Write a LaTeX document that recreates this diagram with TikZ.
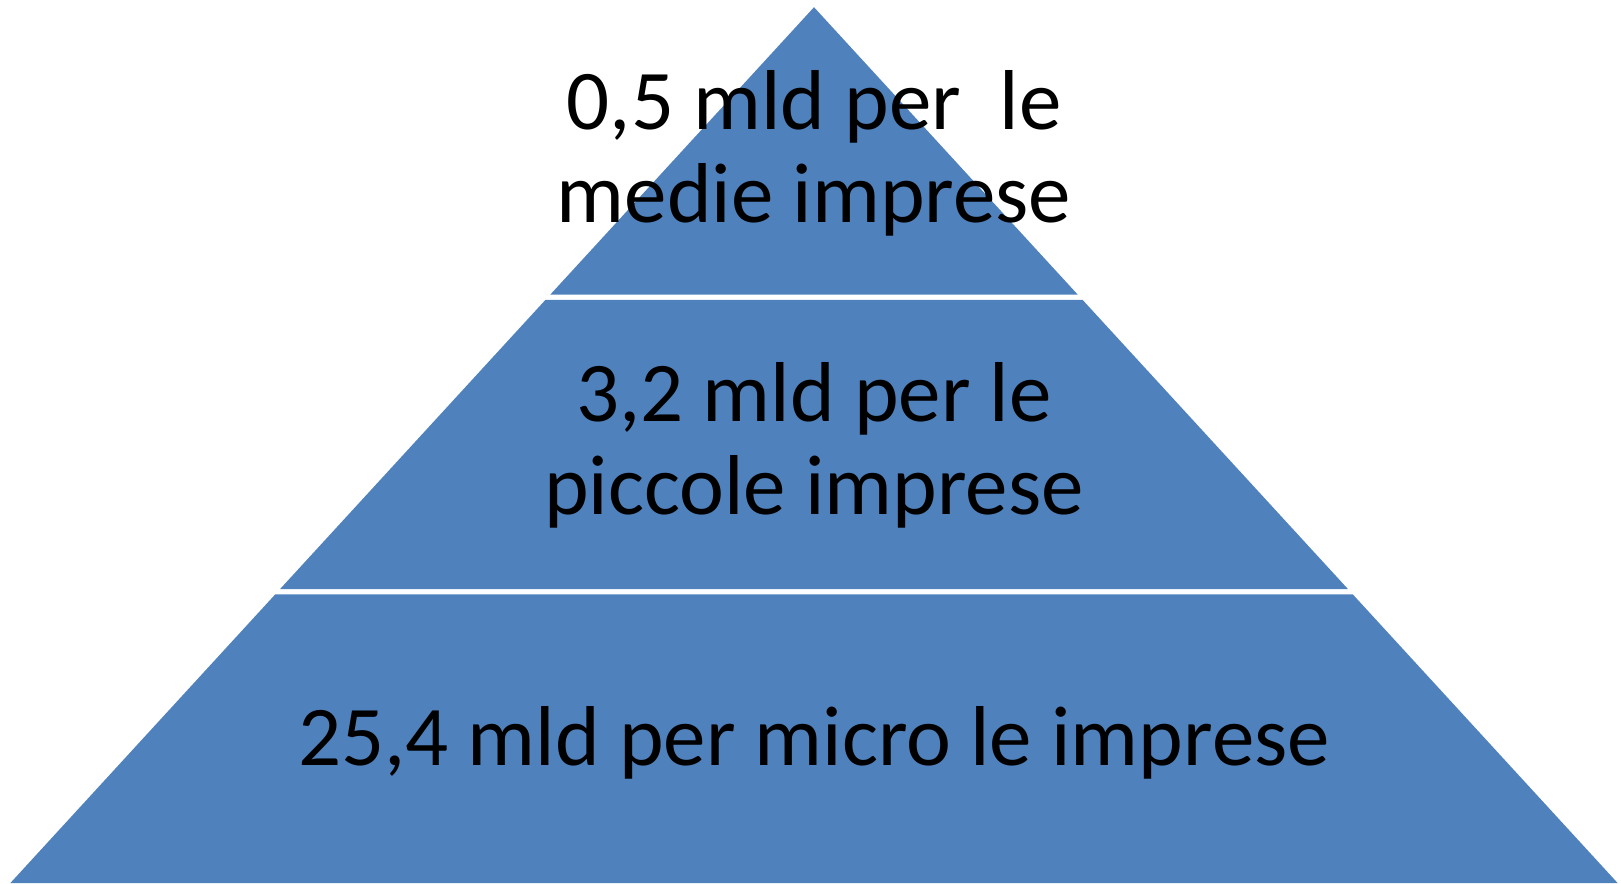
\documentclass[tikz,border=0pt]{standalone}
\usepackage{fontspec}
\setmainfont{Carlito}
\definecolor{pyrblue}{HTML}{4F81BD}
\begin{document}
\begin{tikzpicture}[x=1pt,y=-1pt,
  seg/.style={fill=pyrblue,draw=none},
  lbl/.style={text=black,align=center,inner sep=0pt,font=\fontsize{85}{92.5}\selectfont,anchor=base}]
\useasboundingbox (0,0) rectangle (1621,883);
% segments
\fill[seg] (814,7.2) -- (1077.7,294.6) -- (550.3,294.6) -- cycle;
\fill[seg] (545.5,299.8) -- (1082.5,299.8) -- (1347.9,589) -- (280.1,589) -- cycle;
\fill[seg] (275.2,594.4) -- (1352.8,594.4) -- (1617.6,883) -- (10.4,883) -- cycle;
% labels (base anchor = baseline of last line)
\node[lbl] (t1) at (814,222) {0,5 mld per\ \ le\\medie imprese};
\node[lbl] (t2) at (814,514) {3,2 mld per le\\piccole imprese};
\node[lbl] (t3) at (814,765) {25,4 mld per micro le imprese};
\end{tikzpicture}
\end{document}
